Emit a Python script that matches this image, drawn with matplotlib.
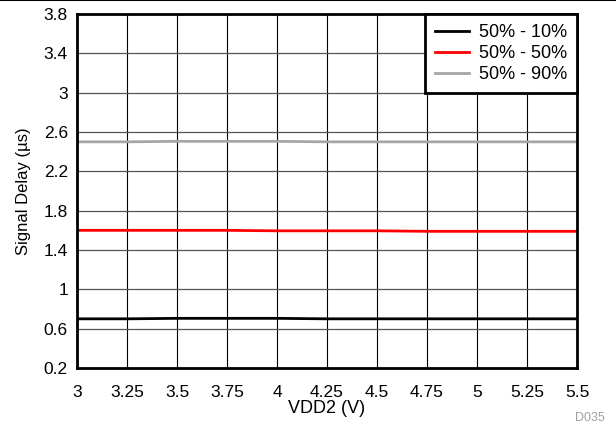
import matplotlib
matplotlib.use('Agg')
import matplotlib.pyplot as plt
from matplotlib.lines import Line2D

plt.rcParams['font.family'] = ['Liberation Sans', 'DejaVu Sans']

vdd2 = [3.0, 3.25, 3.5, 3.75, 4.0, 4.25, 4.5, 4.75, 5.0, 5.25, 5.5]
delay_10 = [0.70, 0.70, 0.705, 0.705, 0.705, 0.70, 0.70, 0.70, 0.70, 0.70, 0.70]
delay_50 = [1.60, 1.60, 1.60, 1.60, 1.595, 1.595, 1.595, 1.59, 1.59, 1.59, 1.59]
delay_90 = [2.50, 2.50, 2.505, 2.505, 2.505, 2.50, 2.50, 2.50, 2.50, 2.50, 2.50]

xticks = [3, 3.25, 3.5, 3.75, 4, 4.25, 4.5, 4.75, 5, 5.25, 5.5]
xtick_labels = ['3', '3.25', '3.5', '3.75', '4', '4.25', '4.5', '4.75', '5', '5.25', '5.5']
yticks = [0.2, 0.6, 1, 1.4, 1.8, 2.2, 2.6, 3, 3.4, 3.8]
ytick_labels = ['0.2', '0.6', '1', '1.4', '1.8', '2.2', '2.6', '3', '3.4', '3.8']

fig = plt.figure(figsize=(6.16, 4.24), dpi=100)
ax = fig.add_axes([77 / 616, 1 - 368 / 424, 500 / 616, 354 / 424])

# grid
for x in xticks:
    ax.axvline(x, color='black', lw=0.8, zorder=1)
for y in yticks:
    ax.axhline(y, color='#555555', lw=0.9, zorder=1)

ax.plot(vdd2, delay_10, color='black', lw=2, label='50% - 10%', zorder=3)
ax.plot(vdd2, delay_50, color='#ff0000', lw=2, label='50% - 50%', zorder=3)
ax.plot(vdd2, delay_90, color='#a6a6a6', lw=2, label='50% - 90%', zorder=3)

ax.set_xlim(3, 5.5)
ax.set_ylim(0.2, 3.8)
ax.set_xticks(xticks)
ax.set_xticklabels(xtick_labels)
ax.set_yticks(yticks)
ax.set_yticklabels(ytick_labels)
ax.tick_params(length=0, labelsize=12.5)
ax.tick_params(axis='x', pad=12)
ax.tick_params(axis='y', pad=6.5)
for s in ax.spines.values():
    s.set_linewidth(2)
    s.set_zorder(5)

ax.set_xlabel('VDD2 (V)', fontsize=13, labelpad=0)
ax.set_ylabel('Signal Delay (\u00b5s)', fontsize=12, labelpad=9)

leg = ax.legend(loc='upper right', fontsize=13, frameon=True, fancybox=False,
                borderaxespad=0, handlelength=1.9, handletextpad=0.55,
                labelspacing=0.22, borderpad=0.55, framealpha=1)
leg.get_frame().set_edgecolor('black')
leg.get_frame().set_linewidth(2)
leg.set_zorder(6)

fig.text(605 / 616, 1 - 418 / 424, 'D035', color='#a0a0a0', fontsize=9, ha='right', va='center')
fig.add_artist(Line2D([0, 1], [0.999, 0.999], color='black', lw=1.5, transform=fig.transFigure))

fig.savefig('out.png', dpi=100)
